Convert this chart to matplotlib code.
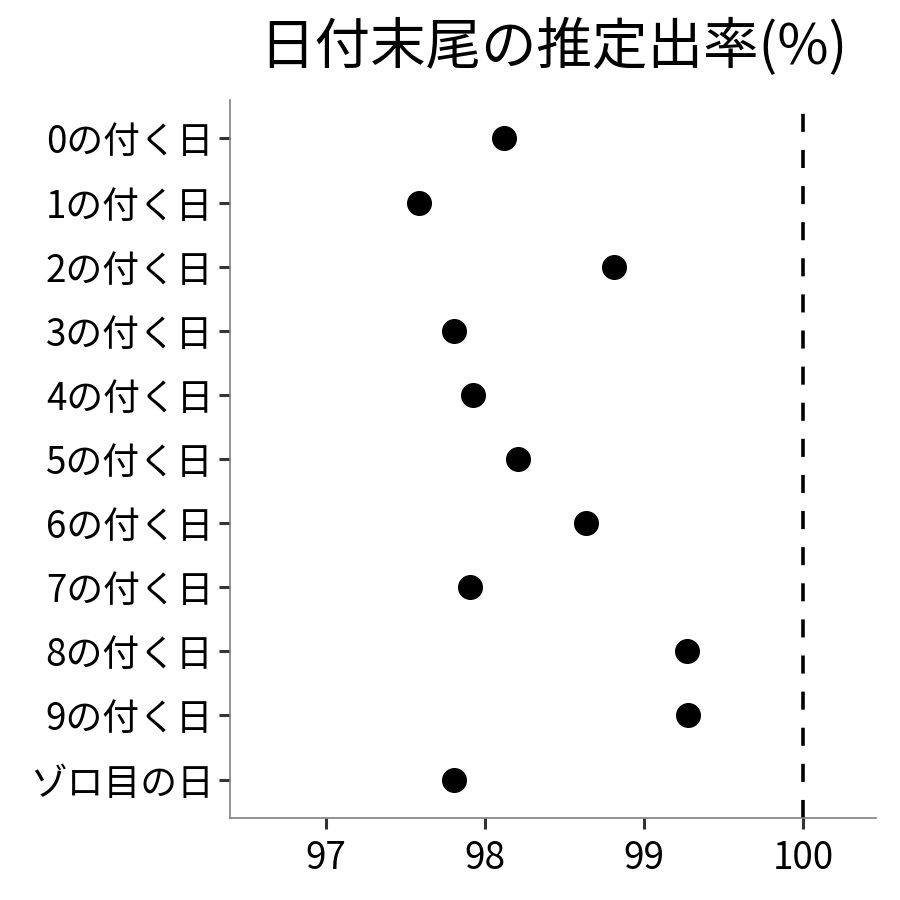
import matplotlib
matplotlib.use('Agg')
import matplotlib.pyplot as plt

plt.rcParams['font.family'] = ['Noto Sans CJK JP', 'DejaVu Sans']

labels = ['0の付く日', '1の付く日', '2の付く日', '3の付く日', '4の付く日',
          '5の付く日', '6の付く日', '7の付く日', '8の付く日', '9の付く日', 'ゾロ目の日']
rates = [98.12, 97.59, 98.81, 97.81, 97.93, 98.21, 98.64, 97.91, 99.27, 99.28, 97.81]
xticks = [97, 98, 99, 100]

fig = plt.figure(figsize=(9, 9), dpi=100)
ax = fig.add_axes([0.2556, 0.0911, 0.7178, 0.7978])

ypos = list(range(len(labels)))
ax.plot(rates, ypos, 'o', color='black', markersize=17, zorder=3)
ax.axvline(100, color='black', linewidth=2.6, dashes=(5, 5))

ax.set_yticks(ypos)
ax.set_yticklabels(labels)
ax.set_ylim(len(labels) - 1 + 0.6, -0.6)
ax.set_xticks(xticks)
ax.set_xlim(96.40, 100.46)

for side in ['top', 'right']:
    ax.spines[side].set_visible(False)
for side in ['left', 'bottom']:
    ax.spines[side].set_color('#808080')
    ax.spines[side].set_linewidth(1.2)
ax.tick_params(axis='both', length=8, width=2.2, color='#333333',
               labelsize=26.5, labelcolor='black')
ax.tick_params(axis='y', pad=4)
ax.tick_params(axis='x', pad=7)

ax.set_title('日付末尾の推定出率(%)', fontsize=40, pad=26)

fig.savefig('out.png', dpi=100)
